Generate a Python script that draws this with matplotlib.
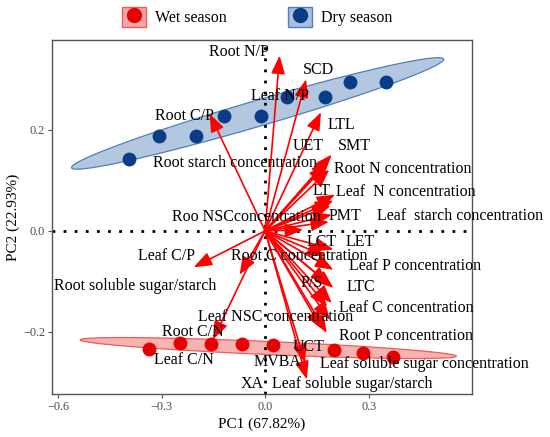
import numpy as np
import matplotlib
matplotlib.use('Agg')
import matplotlib.pyplot as plt
from matplotlib.patches import Patch, Polygon
from matplotlib.lines import Line2D
from matplotlib.legend_handler import HandlerTuple

plt.rcParams['font.family'] = ['Liberation Serif', 'DejaVu Serif']
plt.rcParams['axes.unicode_minus'] = True

# sample scores
wet_pc1 = [-0.336, -0.248, -0.157, -0.066, 0.024, 0.200, 0.285, 0.372]
wet_pc2 = [-0.233, -0.222, -0.224, -0.224, -0.226, -0.236, -0.242, -0.249]
dry_pc1 = [-0.394, -0.308, -0.199, -0.119, -0.011, 0.064, 0.173, 0.246, 0.352]
dry_pc2 = [0.143, 0.188, 0.188, 0.228, 0.228, 0.265, 0.265, 0.294, 0.294]

# variable loadings (arrow tips)
load_pc1 = [0.042, 0.119, 0.162, -0.161, 0.193, 0.184, 0.186, 0.178,
            0.203, 0.198, 0.190, 0.193, 0.185, 0.110, 0.198, 0.175,
            0.198, 0.198, 0.185, 0.193, 0.180, 0.188, 0.179, 0.165,
            0.116, 0.121, -0.207, -0.074, -0.151]
load_pc2 = [0.347, 0.300, 0.235, 0.232, 0.151, 0.141, 0.121, 0.132,
            0.072, 0.060, 0.050, 0.032, 0.018, 0.002, -0.037, -0.050,
            -0.077, -0.113, -0.105, -0.143, -0.150, -0.176, -0.202, -0.195,
            -0.261, -0.294, -0.072, -0.087, -0.215]

# variable labels
var_names = ['Root N/P', 'SCD', 'Leaf N/P', 'Root C/P', 'LTL', 'UET', 'SMT',
             'Root starch concentration', 'Root N concentration', 'LT',
             'Leaf  N concentration', 'Roo NSCconcentration', 'PMT',
             'Leaf  starch concentration', 'LCT', 'LET', 'Leaf C/P',
             'Root C concentration', 'Leaf P concentration',
             'Root soluble sugar/starch', 'P/S', 'LTC', 'Leaf C concentration',
             'Leaf NSC concentration', 'Root C/N', 'Root P concentration',
             'UCT', 'Leaf C/N', 'MVBA', 'Leaf soluble sugar concentration',
             'XA', 'Leaf soluble sugar/starch']
lab_x = [-0.075, 0.156, 0.043, -0.235, 0.221, 0.124, 0.258, -0.088, 0.400,
         0.164, 0.409, -0.054, 0.233, 0.564, 0.163, 0.277, -0.286, 0.100,
         0.434, -0.377, 0.136, 0.277, 0.410, 0.030, -0.209, 0.410, 0.126,
         -0.234, 0.035, 0.463, -0.039, 0.252]
lab_y = [0.355, 0.319, 0.268, 0.228, 0.209, 0.168, 0.168, 0.135, 0.123,
         0.079, 0.076, 0.028, 0.030, 0.030, -0.023, -0.023, -0.050, -0.050,
         -0.069, -0.110, -0.104, -0.111, -0.153, -0.170, -0.201, -0.208,
         -0.230, -0.256, -0.260, -0.263, -0.303, -0.303]

red = '#E60000'
blue = '#0B3C87'


def ellipse_pts(x, y, r=2.12, n=200):
    x = np.asarray(x)
    y = np.asarray(y)
    cov = np.cov(x, y)
    vals, vecs = np.linalg.eigh(cov)
    t = np.linspace(0, 2 * np.pi, n)
    circ = np.vstack([np.cos(t), np.sin(t)]) * r * np.sqrt(vals)[:, None]
    pts = vecs @ circ
    return np.column_stack([pts[0] + x.mean(), pts[1] + y.mean()])


fig = plt.figure(figsize=(5.5, 4.37), dpi=100)
ax = fig.add_axes([0.0945, 0.0984, 0.7631, 0.8101])

ax.add_patch(Polygon(ellipse_pts(dry_pc1, dry_pc2), closed=True,
                     facecolor='#4474B4', alpha=0.4, edgecolor='none', zorder=1))
ax.add_patch(Polygon(ellipse_pts(dry_pc1, dry_pc2), closed=True,
                     facecolor='none', edgecolor='#4F7FBA', lw=0.9, zorder=1))
ax.add_patch(Polygon(ellipse_pts(wet_pc1, wet_pc2), closed=True,
                     facecolor=red, alpha=0.3, edgecolor='none', zorder=1))
ax.add_patch(Polygon(ellipse_pts(wet_pc1, wet_pc2), closed=True,
                     facecolor='none', edgecolor='#F05A5A', lw=0.9, zorder=1))

ax.axhline(0, color='black', lw=2.0, ls=(0, (1, 3)), zorder=2)
ax.axvline(0, color='black', lw=2.0, ls=(0, (1, 3)), zorder=2)

ax.scatter(wet_pc1, wet_pc2, s=100, color=red, zorder=3, linewidths=0)
ax.scatter(dry_pc1, dry_pc2, s=100, color=blue, zorder=3, linewidths=0)

for lx, ly in zip(load_pc1, load_pc2):
    ax.annotate('', xy=(lx, ly), xytext=(0, 0),
                arrowprops=dict(arrowstyle='-|>,head_length=1.1,head_width=0.42',
                                mutation_scale=10, color='red', lw=1.2,
                                shrinkA=0, shrinkB=0), zorder=4)

for name, tx, ty in zip(var_names, lab_x, lab_y):
    ax.text(tx, ty, name, fontsize=11.5, ha='center', va='center',
            color='black', zorder=5, clip_on=False)

ax.set_xlim(-0.618, 0.599)
ax.set_ylim(-0.323, 0.378)
ax.set_xticks([-0.6, -0.3, 0.0, 0.3])
ax.set_xticklabels(['\u22120.6', '\u22120.3', '0.0', '0.3'])
ax.set_yticks([-0.2, 0.0, 0.2])
ax.set_yticklabels(['\u22120.2', '0.0', '0.2'])
ax.tick_params(colors='#555555', labelcolor='#4D4D4D', labelsize=8.8,
               length=3, width=0.8, pad=2)
for sp in ax.spines.values():
    sp.set_color('#555555')
    sp.set_linewidth(1.0)

ax.set_xlabel('PC1 (67.82%)', fontsize=11, labelpad=3)
ax.set_ylabel('PC2 (22.93%)', fontsize=11, labelpad=2)

handles = [(Patch(facecolor='#F8A5A5', edgecolor='#F05A5A'),
            Line2D([], [], marker='o', color=red, ms=10, ls='')),
           (Patch(facecolor='#A9C0DD', edgecolor='#4F7FBA'),
            Line2D([], [], marker='o', color=blue, ms=10, ls=''))]
fig.legend(handles, ['Wet season', 'Dry season'], loc='center',
           bbox_to_anchor=(0.468, 0.961), ncol=2, frameon=False,
           fontsize=11.5, handlelength=1.5, handleheight=1.5,
           handletextpad=0.6, columnspacing=3.8,
           handler_map={tuple: HandlerTuple(ndivide=1)})

fig.savefig('out.png', dpi=100)
